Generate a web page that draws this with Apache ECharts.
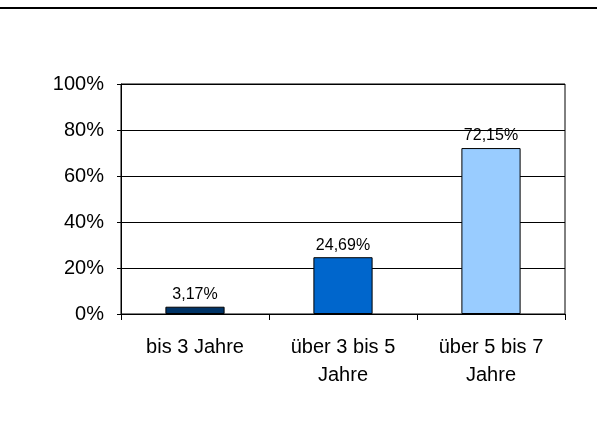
<!DOCTYPE html>
<html>
<head>
    <meta charset="utf-8">
    <title>ECharts</title>
    <script src="https://cdn.jsdelivr.net/npm/echarts@6/dist/echarts.min.js"></script>
    <style>
        html, body { margin: 0; padding: 0; background: #fff; }
    </style>
</head>
<body>
    <div id="main" style="width: 597px;height:432px;"></div>
    <script type="text/javascript">
        var categories = ['bis 3 Jahre', 'über 3 bis 5\nJahre', 'über 5 bis 7\nJahre'];
        var values = [3.17, 24.69, 72.15];
        var barColors = ['#003366', '#0066CC', '#99CCFF'];
        var yTicks = [0, 20, 40, 60, 80, 100];

        var myChart = echarts.init(document.getElementById('main'));

        var font = 'Liberation Sans, Arial, sans-serif';

        option = {
            animation: false,
            graphic: [
                {
                    type: 'line',
                    shape: {x1: 0, y1: 8, x2: 597, y2: 8},
                    style: {stroke: '#000', lineWidth: 2}
                }
            ],
            grid: {
                left: 121, right: 32, top: 84, bottom: 118,
                show: true, borderColor: '#000', borderWidth: 1
            },
            xAxis: {
                type: 'category',
                data: categories,
                axisLine: {lineStyle: {color: '#000'}},
                axisTick: {show: true, length: 6, lineStyle: {color: '#000'}},
                axisLabel: {
                    fontFamily: font, fontSize: 20, color: '#000',
                    lineHeight: 28, margin: 19
                }
            },
            yAxis: {
                type: 'value',
                min: yTicks[0],
                max: yTicks[yTicks.length - 1],
                interval: 20,
                axisLine: {show: true, lineStyle: {color: '#000'}},
                axisTick: {show: true, length: 4, lineStyle: {color: '#000'}},
                splitLine: {lineStyle: {color: '#000'}},
                axisLabel: {
                    fontFamily: font, fontSize: 20, color: '#000', margin: 17,
                    formatter: '{value}%'
                }
            },
            series: [
                {
                    type: 'bar',
                    barWidth: '40%',
                    data: values.map(function (v, i) {
                        return {value: v, itemStyle: {color: barColors[i]}};
                    }),
                    itemStyle: {borderColor: '#000', borderWidth: 1},
                    label: {
                        show: true, position: 'top', distance: 4,
                        fontFamily: font, fontSize: 16, color: '#000',
                        formatter: function (p) {
                            return p.value.toFixed(2).replace('.', ',') + '%';
                        }
                    }
                }
            ]
        };

        myChart.setOption(option);
    </script>
</body>
</html>
